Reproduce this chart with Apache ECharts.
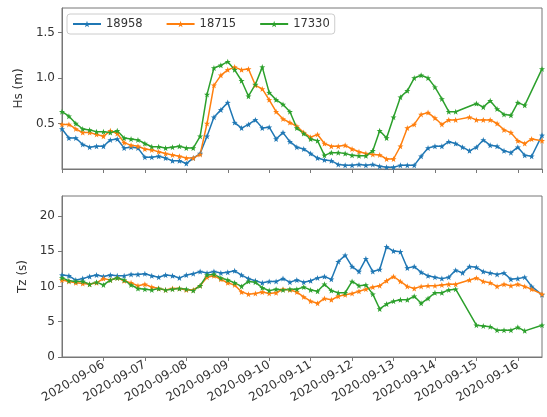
<!DOCTYPE html>
<html>
<head>
<meta charset="utf-8">
<script src="https://cdn.jsdelivr.net/npm/echarts@6/dist/echarts.min.js"></script>
</head>
<body style="margin:0">
<div id="main" style="width:547px;height:417px"></div>
<script>
// time origin: 2020-09-05 00:00 UTC, x values are hours from there
var START = Date.UTC(2020, 8, 5, 0, 0);
var hours = [0, 4, 8, 12, 16, 20, 24, 28, 32, 36,
  40, 44, 48, 52, 56, 60, 64, 68, 72, 76,
  80, 84, 88, 92, 96, 100, 104, 108, 112, 116,
  120, 124, 128, 132, 136, 140, 144, 148, 152, 156,
  160, 164, 168, 172, 176, 180, 184, 188, 192, 196,
  200, 204, 208, 212, 216, 220, 224, 228, 232, 236,
  240, 244, 248, 252, 256, 260, 264, 268, 272, 278];

var buoys = ['18958', '18715', '17330'];

// Hs (m)
var hs18958 = [0.44, 0.34, 0.34, 0.27, 0.24, 0.25, 0.25, 0.32, 0.33, 0.23,
  0.24, 0.23, 0.13, 0.13, 0.14, 0.12, 0.09, 0.09, 0.06, 0.12,
  0.17, 0.36, 0.57, 0.65, 0.73, 0.51, 0.45, 0.49, 0.54, 0.45,
  0.46, 0.33, 0.40, 0.30, 0.24, 0.22, 0.17, 0.12, 0.10, 0.09,
  0.05, 0.04, 0.04, 0.05, 0.04, 0.05, 0.03, 0.02, 0.02, 0.04,
  0.04, 0.04, 0.14, 0.23, 0.25, 0.25, 0.30, 0.28, 0.24, 0.20,
  0.24, 0.32, 0.26, 0.25, 0.20, 0.18, 0.24, 0.15, 0.14, 0.37];
var hs18715 = [0.49, 0.49, 0.44, 0.40, 0.40, 0.38, 0.36, 0.42, 0.39, 0.29,
  0.26, 0.25, 0.22, 0.21, 0.19, 0.17, 0.155, 0.14, 0.12, 0.12,
  0.16, 0.50, 0.92, 1.03, 1.09, 1.12, 1.09, 1.10, 0.92, 0.88,
  0.76, 0.63, 0.55, 0.51, 0.47, 0.40, 0.35, 0.38, 0.28, 0.25,
  0.25, 0.26, 0.22, 0.19, 0.17, 0.16, 0.155, 0.11, 0.11, 0.25,
  0.45, 0.49, 0.60, 0.62, 0.56, 0.49, 0.54, 0.54, null, 0.57,
  0.54, 0.54, 0.54, 0.50, 0.43, 0.40, 0.31, 0.28, 0.33, 0.31];
var hs17330 = [0.63, 0.58, 0.50, 0.44, 0.43, 0.41, 0.41, 0.40, 0.42, 0.34,
  0.33, 0.32, 0.28, 0.245, 0.245, 0.23, 0.24, 0.25, 0.23, 0.23,
  0.36, 0.82, 1.11, 1.14, 1.18, 1.09, 0.97, 0.80, 0.93, 1.12,
  0.84, 0.76, 0.71, 0.63, 0.45, 0.39, 0.33, 0.31, 0.15, 0.18,
  0.18, 0.17, 0.15, 0.145, 0.145, 0.20, 0.42, 0.34, 0.57, 0.79,
  0.86, 1.00, 1.03, 1.00, 0.90, 0.77, 0.63, 0.63, null, null,
  0.72, 0.68, 0.75, 0.66, 0.60, 0.59, 0.73, 0.70, null, 1.10];

// Tz (s)
var tz18958 = [11.6, 11.5, 10.9, 11.1, 11.4, 11.6, 11.4, 11.6, 11.5, 11.5,
  11.7, 11.7, 11.8, 11.5, 11.3, 11.6, 11.5, 11.2, 11.6, 11.8,
  12.1, 11.9, 12.1, 11.9, 12.0, 12.2, 11.6, 11.1, 10.8, 10.5,
  10.7, 10.7, 11.1, 10.6, 10.9, 10.6, 10.8, 11.2, 11.4, 11.0,
  13.5, 14.4, 12.8, 12.1, 13.9, 12.1, 12.4, 15.6, 15.0, 14.9,
  12.6, 12.8, 12.0, 11.5, 11.3, 11.1, 11.3, 12.3, 11.9, 12.8,
  12.7, 12.1, 11.9, 11.7, 11.9, 11.0, 11.1, 11.3, 10.0, 8.8];
var tz18715 = [10.9, 10.7, 10.5, 10.4, 10.3, 10.5, 11.1, 10.9, 11.2, 10.8,
  10.5, 10.1, 10.3, 9.9, 9.7, 9.5, 9.7, 9.7, 9.5, 9.5,
  10.1, 11.3, 11.5, 11.0, 10.5, 10.2, 9.2, 8.9, 9.0, 9.2,
  9.0, 9.1, 9.6, 9.5, 9.2, 8.5, 7.9, 7.6, 8.3, 8.1,
  8.6, 8.8, 9.0, 9.3, 9.6, 9.9, 10.1, 10.8, 11.4, 10.7,
  10.0, 9.7, 10.0, 10.1, 10.1, 10.2, 10.3, 10.3, null, 10.9,
  11.2, 10.7, 10.5, 10.0, 10.3, 10.1, 10.3, 10.0, 9.6, 8.9];
var tz17330 = [11.2, 10.8, 10.7, 10.7, 10.3, 10.6, 10.2, 10.9, 11.2, 10.9,
  10.2, 9.7, 9.6, 9.5, 9.7, 9.5, 9.6, 9.7, 9.6, 9.4,
  10.1, 11.6, 11.7, 11.2, 10.9, 10.5, 10.0, 10.7, 10.6, 9.8,
  9.4, 9.6, 9.5, 9.6, 9.6, 9.9, 9.5, 9.3, 10.3, 9.4,
  9.1, 9.1, 10.7, 10.1, 10.2, 8.9, 6.8, 7.5, 7.9, 8.1,
  8.1, 8.6, 7.6, 8.3, 9.1, 9.1, 9.5, 9.6, null, null,
  4.5, 4.4, 4.3, 3.8, 3.8, 3.8, 4.2, 3.7, null, 4.5];

var colors = ['#1f77b4', '#ff7f0e', '#2ca02c'];
var star = 'path://M0,-10L2.35,-3.24L9.51,-3.09L3.8,1.24L5.88,8.09L0,4L-5.88,8.09L-3.8,1.24L-9.51,-3.09L-2.35,-3.24Z';

function pairs(vals) {
  var out = [];
  for (var i = 0; i < hours.length; i++) {
    if (vals[i] != null) out.push([hours[i], vals[i]]);
  }
  return out;
}
function pad(n) { return n < 10 ? '0' + n : '' + n; }
function dayLabel(h) {
  var d = new Date(START + h * 3600000);
  return d.getUTCFullYear() + '-' + pad(d.getUTCMonth() + 1) + '-' + pad(d.getUTCDate());
}

var font = 'DejaVu Sans';
var axisColor = '#777';
var textColor = '#333';

function xAx(idx, labels) {
  return {
    type: 'value', gridIndex: idx, min: 0, max: 278, interval: 24,
    axisLine: { show: true, lineStyle: { color: axisColor } },
    axisTick: { show: true, length: 4, lineStyle: { color: axisColor } },
    splitLine: { show: false },
    axisLabel: {
      show: labels, rotate: 30, margin: 7, fontFamily: font, fontSize: 12, color: textColor,
      showMinLabel: false, showMaxLabel: false,
      formatter: function (v) { return dayLabel(v); }
    }
  };
}
function yAx(idx, name, max, interval, fmt) {
  return {
    type: 'value', gridIndex: idx, min: 0, max: max, interval: interval,
    name: name, nameLocation: 'middle', nameGap: 29,
    nameTextStyle: { fontFamily: font, fontSize: 12, color: textColor },
    axisLine: { show: true, lineStyle: { color: axisColor } },
    axisTick: { show: true, length: 4, lineStyle: { color: axisColor } },
    splitLine: { show: false },
    axisLabel: {
      margin: 7, fontFamily: font, fontSize: 12, color: textColor,
      showMinLabel: idx === 1, showMaxLabel: false, formatter: fmt
    }
  };
}
function line(name, vals, idx, color) {
  return {
    name: name, type: 'line', xAxisIndex: idx, yAxisIndex: idx,
    data: pairs(vals), color: color,
    symbol: star, symbolSize: 6, showSymbol: true,
    lineStyle: { width: 1.5, color: color },
    itemStyle: { color: color },
    animation: false
  };
}

var myChart = echarts.init(document.getElementById('main'));
myChart.setOption({
  animation: false,
  color: colors,
  grid: [
    { left: 62, top: 8, width: 480, height: 161, show: true, borderColor: axisColor, borderWidth: 1 },
    { left: 62, top: 196, width: 480, height: 161, show: true, borderColor: axisColor, borderWidth: 1 }
  ],
  legend: {
    data: buoys, left: 67, top: 14, orient: 'horizontal',
    itemWidth: 28, itemHeight: 8, itemGap: 23,
    padding: [4, 5, 4, 5],
    backgroundColor: '#fff', borderColor: '#ccc', borderWidth: 1, borderRadius: 3,
    textStyle: { fontFamily: font, fontSize: 11.5, color: textColor }
  },
  xAxis: [xAx(0, false), xAx(1, true)],
  yAxis: [
    yAx(0, 'Hs (m)', 1.77, 0.5, function (v) { return v.toFixed(1); }),
    yAx(1, 'Tz (s)', 22.8, 5, function (v) { return String(v); })
  ],
  series: [
    line(buoys[0], hs18958, 0, colors[0]),
    line(buoys[1], hs18715, 0, colors[1]),
    line(buoys[2], hs17330, 0, colors[2]),
    line(buoys[0], tz18958, 1, colors[0]),
    line(buoys[1], tz18715, 1, colors[1]),
    line(buoys[2], tz17330, 1, colors[2])
  ]
});
</script>
</body>
</html>
